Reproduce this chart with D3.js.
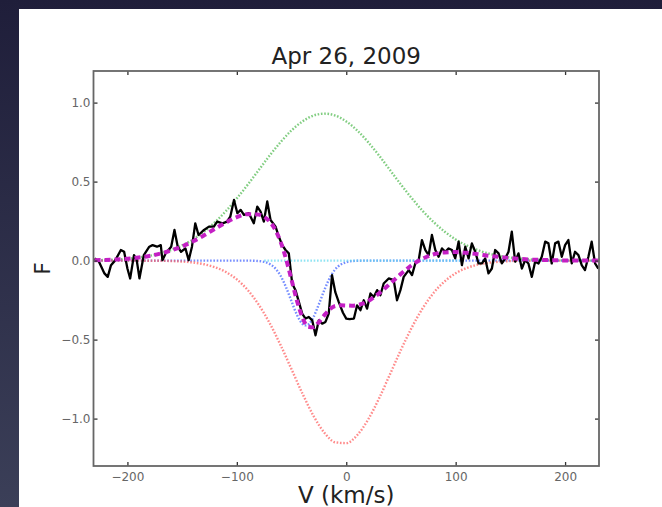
<!DOCTYPE html>
<html>
<head>
<meta charset="utf-8">
<script src="https://cdn.jsdelivr.net/npm/d3@7"></script>
<style>
  html, body { margin: 0; padding: 0; background: #23223c; }
  svg { display: block; }
  text { font-family: "DejaVu Sans", sans-serif; }
</style>
</head>
<body>
<div id="chart"></div>
<script>
// velocity grid used for the broad fit components (km/s)
const gridVel = [-230,-220,-210,-200,-190,-180,-170,-160,-150,-140,-130,-120,-110,-100,-90,-80,-70,-60,-50,-40,-30,-20,-10,0,
  10,20,30,40,50,60,70,80,90,100,110,120,130,140,150,160,170,180,190,200,210,220,230];

// green dotted emission component
const greenFlux = [0.002,0.004,0.007,0.012,0.019,0.030,0.045,0.067,0.096,0.134,0.183,0.243,0.313,0.394,0.481,0.573,0.665,0.750,0.824,0.881,0.918,0.930,0.918,0.881,
  0.824,0.750,0.665,0.573,0.481,0.394,0.313,0.243,0.183,0.134,0.096,0.067,0.045,0.030,0.019,0.012,0.007,0.004,0.002,0.001,0.001,0,0];

// red dotted absorption component
const redFlux = [0,0,0,0,0,-0.001,-0.001,-0.003,-0.006,-0.012,-0.023,-0.042,-0.072,-0.119,-0.187,-0.279,-0.396,-0.535,-0.688,-0.842,-0.982,-1.089,-1.150,-1.155,
  -1.105,-1.006,-0.872,-0.719,-0.565,-0.422,-0.300,-0.203,-0.131,-0.080,-0.047,-0.026,-0.014,-0.007,-0.003,-0.001,-0.001,0,0,0,0,0,0];

// blue dotted narrow absorption
const blueVel = [-230,-200,-170,-140,-110,-90,-80,-75,-70,-65,-60,-55,-50,-45,-40,-37,-34,-30,-25,-20,-15,-10,-5,0,5,10,20,50,80,110,140,170,200,230];
const blueFlux = [0,0,0,0,0,0,-0.003,-0.008,-0.021,-0.048,-0.096,-0.169,-0.258,-0.344,-0.400,-0.410,-0.400,-0.358,-0.276,-0.186,-0.109,-0.055,-0.025,-0.010,-0.003,-0.001,0,0,0,0,0,0,0,0];

// cyan dotted flat component
const cyanVel = [-75,107];
const cyanFlux = [0,0];

// magenta dashed total fit
const fitVel = [-230,-220,-210,-200,-190,-180,-170,-160,-150,-140,-130,-120,-110,-100,-90,-80,-75,-70,-65,-60,-55,-50,-45,-40,-35,-30,-25,-20,-15,-10,-5,0,5,10,
  20,30,40,50,60,70,80,90,100,110,120,130,140,150,160,170,180,190,200,210,220,230];
const fitFlux = [0.003,0.004,0.007,0.012,0.019,0.029,0.044,0.064,0.090,0.122,0.160,0.201,0.241,0.275,0.294,0.291,0.277,0.248,0.197,0.119,0.010,-0.122,-0.255,-0.361,-0.418,-0.422,-0.389,-0.345,-0.308,-0.287,-0.283,-0.284,-0.285,-0.282,
  -0.256,-0.207,-0.146,-0.084,-0.028,0.013,0.040,0.052,0.054,0.049,0.041,0.031,0.023,0.016,0.010,0.006,0.004,0.002,0.001,0.001,0,0];

// observed profile (black)
const obsVel = [-230,-226,-221,-218,-215,-211,-206,-203,-200,-197.5,-194,-191.5,-189,-185,-180,-177,-173,-169.5,-168,-165,-160,-157,-154,-151,-147,-144,-141,-138,-135,-130,
  -125.5,-121,-118,-113,-109,-106,-102.6,-99.5,-96.5,-93.5,-89,-84.5,-81.3,-78.3,-75.3,-72.2,-69.2,-64.6,-61.6,-58.5,-55.5,-52.5,-49.4,-46.4,-43.3,-40.3,-37.2,-34.2,-31.1,-28.1,
  -25.1,-22,-19,-16,-13,-10,-7,-3,0,3,7,9.9,13,16,19,22.1,25.1,28.2,31.2,34.2,38.8,43.4,46.4,49.5,52.5,57.1,60.1,63.1,66.2,69.2,
  72.3,75.3,78.3,81.4,84.4,87.5,90.5,93.6,96.6,99.6,102.7,105.7,108.8,111.8,114.8,117.9,120.9,124,127,130,133.1,136.1,139.2,142.2,145.3,148.3,
  151.3,154.4,157.4,160.5,163.5,166.5,169.6,172.6,175.7,178.7,181.8,184.8,187.8,190.9,193.9,197,200,203,206.1,209.1,212.2,215.2,218.2,221.3,224.3,227.4,230.4];
const obsFlux = [0.014,-0.007,-0.081,-0.103,-0.029,0.003,0.067,0.056,-0.050,-0.113,0.035,0.003,-0.113,0.035,0.088,0.098,0.088,0.098,0.003,0.046,0.088,0.194,0.088,0.056,0.077,0.003,0.088,0.236,0.162,0.194,
  0.215,0.215,0.247,0.236,0.247,0.278,0.384,0.300,0.321,0.289,0.300,0.236,0.342,0.310,0.247,0.374,0.257,0.215,0.151,0.098,0.067,0.046,-0.145,-0.187,-0.261,-0.335,-0.367,-0.357,-0.378,-0.473,
  -0.378,-0.399,-0.388,-0.335,-0.092,-0.200,-0.260,-0.330,-0.367,-0.370,-0.367,-0.283,-0.314,-0.251,-0.304,-0.208,-0.230,-0.187,-0.219,-0.145,-0.113,-0.124,-0.251,-0.187,-0.103,-0.060,-0.092,-0.018,0.003,0.130,
  0.067,0.035,0.162,0.067,0.024,0.077,0.056,0.077,0.067,0.014,0.120,-0.029,0.088,0.014,0.109,0.056,-0.018,-0.018,0.014,-0.081,-0.050,0.067,0.046,-0.018,0.014,0.056,
  0.183,-0.007,0.046,-0.050,0.003,-0.018,-0.103,-0.007,-0.018,0.024,0.120,0.109,-0.018,0.109,0.120,0.024,0.098,0.130,-0.018,0.056,0.035,-0.029,-0.060,0.024,0.120,-0.018,-0.050];

const xTicks = [-200,-100,0,100,200];
const yTicks = [-1.0,-0.5,0.0,0.5,1.0];

// page + panel
const W = 662, H = 507;
const plot = { left: 93.5, right: 599, top: 71, bottom: 466 };

const svg = d3.select("#chart").append("svg")
  .attr("width", W)
  .attr("height", H);

const defs = svg.append("defs");
const grad = defs.append("linearGradient")
  .attr("id", "bg")
  .attr("x1", 0).attr("y1", 0).attr("x2", 0).attr("y2", 1);
grad.append("stop").attr("offset", "0%").attr("stop-color", "#1f1e3a");
grad.append("stop").attr("offset", "100%").attr("stop-color", "#3b3f58");

svg.append("rect").attr("width", W).attr("height", H).attr("fill", "url(#bg)");
svg.append("rect")
  .attr("x", 19).attr("y", 9)
  .attr("width", W - 19).attr("height", H - 9)
  .attr("fill", "#ffffff");

defs.append("clipPath").attr("id", "plotclip")
  .append("rect")
  .attr("x", plot.left).attr("y", plot.top)
  .attr("width", plot.right - plot.left).attr("height", plot.bottom - plot.top);

// scales
const x = d3.scaleLinear().domain([-231, 231]).range([plot.left, plot.right]);
const y = d3.scaleLinear().domain([-1.3, 1.2]).range([plot.bottom, plot.top]);

const lineOf = (vels, flux, curve) => d3.line()
  .x((d, i) => x(vels[i]))
  .y(d => y(d))
  .curve(curve)(flux);

const g = svg.append("g").attr("clip-path", "url(#plotclip)");

// fit components, dotted
const dotted = [
  { vel: gridVel, flux: greenFlux, color: "#4cb84c" },
  { vel: blueVel, flux: blueFlux, color: "#3b5cff" },
  { vel: cyanVel, flux: cyanFlux, color: "#5fd8ee" },
  { vel: gridVel, flux: redFlux, color: "#ff5a5a" }
];
dotted.forEach(c => {
  g.append("path")
    .attr("d", lineOf(c.vel, c.flux, d3.curveMonotoneX))
    .attr("fill", "none")
    .attr("stroke", c.color)
    .attr("stroke-width", 2.4)
    .attr("stroke-dasharray", "1.6,1.7")
    .attr("opacity", 0.7);
});

// observed spectrum
g.append("path")
  .attr("d", lineOf(obsVel, obsFlux, d3.curveLinear))
  .attr("fill", "none")
  .attr("stroke", "#000")
  .attr("stroke-width", 2.3)
  .attr("stroke-linejoin", "round");

// total fit, dashed magenta
g.append("path")
  .attr("d", lineOf(fitVel, fitFlux, d3.curveMonotoneX))
  .attr("fill", "none")
  .attr("stroke", "#c41fc4")
  .attr("stroke-width", 4)
  .attr("stroke-dasharray", "6,4");

// axes, ticks pointing inwards on all four sides
const fmtX = d3.format("d");
const fmtY = d3.format(".1f");

const axB = svg.append("g")
  .attr("transform", `translate(0,${plot.bottom})`)
  .call(d3.axisBottom(x).tickValues(xTicks).tickFormat(fmtX).tickSize(-4).tickPadding(6));
const axT = svg.append("g")
  .attr("transform", `translate(0,${plot.top})`)
  .call(d3.axisTop(x).tickValues(xTicks).tickFormat("").tickSize(-4));
const axL = svg.append("g")
  .attr("transform", `translate(${plot.left},0)`)
  .call(d3.axisLeft(y).tickValues(yTicks).tickFormat(fmtY).tickSize(-4).tickPadding(3));
const axR = svg.append("g")
  .attr("transform", `translate(${plot.right},0)`)
  .call(d3.axisRight(y).tickValues(yTicks).tickFormat("").tickSize(-4));

[axB, axT, axL, axR].forEach(a => {
  a.select(".domain").remove();
  a.selectAll(".tick line").attr("stroke", "#333").attr("stroke-width", 1.3);
  a.selectAll(".tick text")
    .attr("fill", "#666")
    .style("font-family", "DejaVu Sans, sans-serif")
    .style("font-size", "12px");
});

// frame
svg.append("rect")
  .attr("x", plot.left).attr("y", plot.top)
  .attr("width", plot.right - plot.left).attr("height", plot.bottom - plot.top)
  .attr("fill", "none")
  .attr("stroke", "#666")
  .attr("stroke-width", 1.8);

// labels
svg.append("text")
  .attr("x", (plot.left + plot.right) / 2)
  .attr("y", 64)
  .attr("text-anchor", "middle")
  .attr("fill", "#222")
  .style("font-size", "23px")
  .text("Apr 26, 2009");

svg.append("text")
  .attr("x", (plot.left + plot.right) / 2)
  .attr("y", 503)
  .attr("text-anchor", "middle")
  .attr("fill", "#222")
  .style("font-size", "23px")
  .text("V (km/s)");

svg.append("text")
  .attr("transform", `translate(50,${(plot.top + plot.bottom) / 2}) rotate(-90)`)
  .attr("text-anchor", "middle")
  .attr("fill", "#222")
  .style("font-size", "22px")
  .text("F");
</script>
</body>
</html>
